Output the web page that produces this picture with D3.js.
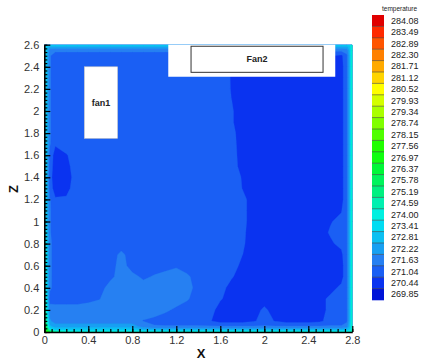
<!DOCTYPE html>
<html>
<head>
<meta charset="utf-8">
<script src="https://cdn.jsdelivr.net/npm/d3@7"></script>
<style>
  html, body { margin: 0; padding: 0; background: #fff; }
  svg { display: block; font-family: "Liberation Sans", Arial, sans-serif; }
</style>
</head>
<body>
<svg id="chart" width="421" height="362"></svg>
<script>
// Contour levels (legend order, top to bottom) and their fill colours
const levels = [284.08, 283.49, 282.89, 282.30, 281.71, 281.12, 280.52, 279.93, 279.34,
  278.74, 278.15, 277.56, 276.97, 276.37, 275.78, 275.19, 274.59, 274.00, 273.41,
  272.81, 272.22, 271.63, 271.04, 270.44, 269.85];
const levelColors = ["#e00000", "#ff2a00", "#ff5500", "#ff8000", "#ffaa00", "#ffd400",
  "#ffff00", "#d4ff00", "#aaff00", "#80ff00", "#50ff00", "#20ff00", "#10ff10", "#00f838",
  "#00f45c", "#00f080", "#00f0b0", "#00f0e0", "#00dcf2", "#0cc0f2", "#18a0f2", "#2680f2",
  "#1a5ff4", "#0a33f0", "#0014d8"];

// Sample positions of the temperature grid (denser close to the walls)
const xNodes = [0, 0.02, 0.05, 0.1, 0.2, 0.3, 0.4, 0.5, 0.6, 0.7, 0.8, 0.9, 1.0, 1.1, 1.2,
  1.3, 1.4, 1.5, 1.6, 1.7, 1.8, 1.9, 2.0, 2.1, 2.2, 2.3, 2.4, 2.5, 2.6, 2.7, 2.75, 2.78, 2.8];
const zNodes = [2.6, 2.58, 2.55, 2.5, 2.4, 2.3, 2.2, 2.1, 2.0, 1.9, 1.8, 1.7, 1.6, 1.5, 1.4,
  1.3, 1.2, 1.1, 1.0, 0.9, 0.8, 0.7, 0.6, 0.5, 0.4, 0.3, 0.2, 0.1, 0.05, 0.02, 0];

// Frequent temperature values in the room interior
const D = 270.8, M = 271.3, L = 271.95;

// Temperature field, one row per zNodes entry, one column per xNodes entry
const temperature = [
  [274.5, 273.6, 273.6, 273.6, 273.6, 273.6, 273.6, 273.6, 273.6, 273.6, 273.6, 273.6, 273.6, 273.6, 273.6, 273.6, 273.6, 273.6, 273.6, 273.6, 273.6, 273.6, 273.6, 273.6, 273.6, 273.6, 273.6, 273.6, 273.6, 273.6, 273.6, 273.6, 275.0],
  [274.2, 273.3, 272.6, 272.6, 272.6, 272.6, 272.6, 272.6, 272.6, 272.6, 272.6, 272.6, 272.6, 272.6, 272.6, 272.6, 272.6, 272.6, 272.6, 272.6, 272.6, 272.6, 272.6, 272.6, 272.6, 272.6, 272.6, 272.6, 272.6, 272.6, 272.6, 273.2, 275.0],
  [274.2, 273.1, 271.9, 271.8, 271.8, 271.8, 271.8, 271.8, 271.8, 271.8, 271.8, 271.8, 271.8, 271.8, 271.8, 271.8, 271.8, 271.8, 271.8, 271.8, 271.8, 271.8, 271.8, 271.8, 271.8, 271.8, 271.8, 271.8, 271.8, 271.8, 271.9, 273.1, 275.0],
  [274.2, 273.1, 271.7, M, M, M, M, M, M, M, M, M, M, M, M, M, M, M, M, M, M, M, M, M, M, M, M, M, 271.1, 270.9, 271.5, 273.0, 275.0],
  [274.2, 273.1, 271.7, M, M, M, M, M, M, M, M, M, M, M, M, M, M, M, M, 271.0, D, D, D, D, D, D, D, D, D, D, 271.5, 273.0, 275.0],
  [274.2, 273.1, 271.7, M, M, M, M, M, M, M, M, M, M, M, M, M, M, M, 271.49, 270.99, D, D, D, D, D, D, D, D, D, D, 271.5, 273.0, 275.0],
  [274.2, 273.1, 271.7, M, M, M, M, M, M, M, M, M, M, M, M, M, M, M, 271.5, 271.0, D, D, D, D, D, D, D, D, D, D, 271.5, 273.0, 275.0],
  [274.2, 273.1, 271.7, M, M, M, M, M, M, M, M, M, M, M, M, M, M, M, M, 271.05, D, D, D, D, D, D, D, D, D, D, 271.5, 273.0, 275.0],
  [274.2, 273.1, 271.7, M, M, M, M, M, M, M, M, M, M, M, M, M, M, M, M, 271.1, D, D, D, D, D, D, D, D, D, D, 271.5, 273.0, 275.0],
  [274.2, 273.1, 271.7, M, M, M, M, M, M, M, M, M, M, M, M, M, M, M, M, 271.1, D, D, D, D, D, D, D, D, D, D, 271.5, 273.0, 275.0],
  [274.2, 273.1, 271.7, M, M, M, M, M, M, M, M, M, M, M, M, M, M, M, M, 271.2, D, D, D, D, D, D, D, D, D, D, 271.5, 273.0, 275.0],
  [274.2, 273.1, 271.7, 271.1, M, M, M, M, M, M, M, M, M, M, M, M, M, M, M, 271.25, D, D, D, D, D, D, D, D, D, D, 271.5, 273.0, 275.0],
  [274.2, 273.1, 271.4, 270.8, 271.0, M, M, M, M, M, M, M, M, M, M, M, M, M, M, M, D, D, D, D, D, D, D, D, D, D, 271.5, 273.0, 275.0],
  [274.2, 273.1, 271.3, 270.8, 270.9, M, M, M, M, M, M, M, M, M, M, M, M, M, M, M, 270.85, D, D, D, D, D, D, D, D, D, 271.5, 273.0, 275.0],
  [274.2, 273.1, 271.2, 270.8, 270.8, M, M, M, M, M, M, M, M, M, M, M, M, M, M, 271.35, 271.0, D, D, D, D, D, D, D, D, D, 271.5, 273.0, 275.0],
  [274.2, 273.1, 271.3, 270.8, 270.9, M, M, M, M, M, M, M, M, M, M, M, M, M, M, 271.35, 271.03, D, D, D, D, D, D, D, D, D, 271.5, 273.0, 275.0],
  [274.2, 273.1, 271.7, 271.1, 271.1, M, M, M, M, M, M, M, M, M, M, M, M, M, M, M, 271.2, D, D, D, D, D, D, D, D, D, 271.5, 273.0, 275.0],
  [274.2, 273.1, 271.7, M, M, M, M, M, M, M, M, M, M, M, M, M, M, M, M, M, 271.2, D, D, D, D, D, D, D, D, 271.0, 271.5, 273.0, 275.0],
  [274.2, 273.1, 271.7, M, M, M, M, M, M, M, M, M, M, M, M, M, M, M, M, M, 271.2, D, D, D, D, D, D, D, 271.0, 271.2, 271.5, 273.0, 275.0],
  [274.5, 273.3, 271.7, M, M, M, M, M, M, M, M, M, M, M, M, M, M, M, M, M, 271.15, D, D, D, D, D, D, D, 271.1, 271.3, 271.5, 273.0, 275.0],
  [274.8, 273.5, 271.8, M, M, M, M, M, M, M, M, M, M, M, M, M, M, M, M, M, 271.12, D, D, D, D, D, D, D, 270.95, 271.2, 271.5, 273.0, 275.0],
  [275.0, 273.6, 271.8, M, M, M, M, M, M, 271.8, M, M, M, M, M, M, M, M, M, M, 271.05, D, D, D, D, D, D, D, D, 270.9, 271.5, 273.0, 275.0],
  [275.0, 273.6, 271.8, M, M, M, M, M, M, L, M, M, M, M, 271.55, M, M, M, M, M, 270.9, D, D, D, D, D, D, D, D, D, 271.5, 273.0, 275.0],
  [275.0, 273.6, 271.8, M, M, M, M, M, 271.45, L, 271.85, 271.5, 271.7, L, L, 271.75, M, M, M, 271.1, D, D, D, D, D, D, D, D, D, D, 271.5, 273.0, 275.0],
  [275.0, 273.6, 271.8, M, M, M, M, M, L, L, L, L, L, L, L, L, M, M, 271.25, 270.85, D, D, D, D, D, D, D, D, D, 271.2, 271.5, 273.0, 275.0],
  [275.2, 273.8, 271.3, M, M, M, 271.45, 271.6, L, L, L, L, L, L, L, 271.7, M, M, 271.1, D, D, D, D, D, D, D, D, D, 271.2, M, 271.5, 273.0, 275.0],
  [275.8, 274.2, 272.0, L, L, L, L, L, L, L, L, L, L, 271.75, 271.5, 271.3, M, M, D, D, D, D, 271.15, D, D, D, D, D, 271.2, M, 271.5, 273.0, 275.0],
  [276.5, 274.8, 272.3, L, L, L, L, L, L, L, L, 271.6, 271.45, M, M, M, M, 271.1, D, D, D, 270.95, 271.3, 271.0, D, D, D, 270.9, M, M, 271.5, 273.0, 275.0],
  [277.5, 275.5, 273.0, 272.5, 272.5, 272.5, 272.5, 272.5, 272.5, 272.5, 272.5, 272.0, 271.7, 271.7, 271.7, 271.7, 271.7, 271.7, 271.7, 271.7, 271.7, 271.7, 271.7, 271.7, 271.7, 271.7, 271.7, 271.7, 271.7, 271.7, 272.0, 273.2, 275.0],
  [278.5, 276.5, 274.5, 273.4, 273.4, 273.4, 273.4, 273.4, 273.4, 273.4, 273.4, 272.9, 272.9, 272.9, 272.9, 272.9, 272.9, 272.9, 272.9, 272.9, 272.9, 272.9, 272.9, 272.9, 272.9, 272.9, 272.9, 272.9, 272.9, 272.9, 273.0, 273.6, 275.0],
  [279.5, 278.0, 276.5, 275.5, 275.0, 274.6, 274.6, 274.6, 274.6, 274.6, 274.6, 274.6, 274.6, 274.6, 274.6, 274.6, 274.6, 274.6, 274.6, 274.6, 274.6, 274.6, 274.6, 274.6, 274.6, 274.6, 274.6, 274.6, 274.6, 274.6, 274.6, 274.6, 275.5]
];

// Axis ticks
const xTicks = [0, 0.4, 0.8, 1.2, 1.6, 2.0, 2.4, 2.8];
const xTickLabels = ["0", "0.4", "0.8", "1.2", "1.6", "2", "2.4", "2.8"];
const zTicks = [0, 0.2, 0.4, 0.6, 0.8, 1.0, 1.2, 1.4, 1.6, 1.8, 2.0, 2.2, 2.4, 2.6];
const zTickLabels = ["0", "0.2", "0.4", "0.6", "0.8", "1", "1.2", "1.4", "1.6", "1.8", "2", "2.2", "2.4", "2.6"];
const minorPerMajor = 6;

// Fan outlines in room coordinates
const fanPanels = [{ x0: 1.127, x1: 2.645, z0: 2.31, z1: 2.6 }];
const fanBoxes = [
  { label: "fan1", x0: 0.364, x1: 0.666, z0: 1.753, z1: 2.40, framed: false },
  { label: "Fan2", x0: 1.334, x1: 2.534, z0: 2.35, z1: 2.586, framed: true }
];

const svg = d3.select("#chart");
const x = d3.scaleLinear().domain([0, 2.8]).range([44.3, 352.3]);
const z = d3.scaleLinear().domain([0, 2.6]).range([332, 44.7]);

// Grid-cell coordinates -> room coordinates (values sit at cell centres)
const nx = xNodes.length, nz = zNodes.length;
const gx = d3.scaleLinear()
  .domain([0, ...xNodes.map((_, i) => i + 0.5), nx])
  .range([xNodes[0], ...xNodes, xNodes[nx - 1]]);
const gz = d3.scaleLinear()
  .domain([0, ...zNodes.map((_, j) => j + 0.5), nz])
  .range([zNodes[0], ...zNodes, zNodes[nz - 1]]);

const projection = d3.geoTransform({
  point(px, py) { this.stream.point(x(gx(px)), z(gz(py))); }
});
const path = d3.geoPath(projection);

const ascending = levels.slice().sort((a, b) => a - b);
const bands = d3.contours().size([nx, nz]).thresholds(ascending)(temperature.flat());

svg.append("defs").append("clipPath").attr("id", "plot-clip")
  .append("rect")
  .attr("x", x(0)).attr("y", z(2.6))
  .attr("width", x(2.8) - x(0)).attr("height", z(0) - z(2.6));

svg.append("g").attr("clip-path", "url(#plot-clip)")
  .selectAll("path").data(bands).join("path")
  .attr("d", path)
  .attr("fill", d => levelColors[levels.indexOf(d.value)])
  .attr("stroke", d => levelColors[levels.indexOf(d.value)])
  .attr("stroke-width", 0.3);

// Fans
svg.append("g").selectAll("rect").data(fanPanels).join("rect")
  .attr("x", d => x(d.x0)).attr("y", d => z(d.z1))
  .attr("width", d => x(d.x1) - x(d.x0)).attr("height", d => z(d.z0) - z(d.z1))
  .attr("fill", "#fff");

const fanG = svg.append("g").selectAll("g").data(fanBoxes).join("g");
fanG.append("rect")
  .attr("x", d => x(d.x0)).attr("y", d => z(d.z1))
  .attr("width", d => x(d.x1) - x(d.x0)).attr("height", d => z(d.z0) - z(d.z1))
  .attr("fill", "#fff")
  .attr("stroke", d => d.framed ? "#333" : "#c8c8c8")
  .attr("stroke-width", d => d.framed ? 1 : 0.6);
fanG.append("text")
  .attr("x", d => x((d.x0 + d.x1) / 2)).attr("y", d => z((d.z0 + d.z1) / 2))
  .attr("text-anchor", "middle").attr("dominant-baseline", "central")
  .attr("font-size", 9).attr("font-weight", "bold").attr("fill", "#222")
  .text(d => d.label);

// Axes with inward ticks
const xMinor = d3.range(0, 2.8 + 1e-9, 0.4 / minorPerMajor);
const zMinor = d3.range(0, 2.6 + 1e-9, 0.2 / minorPerMajor);

const gX = svg.append("g").attr("transform", `translate(0,${z(0)})`);
gX.call(d3.axisBottom(x).tickValues(xMinor).tickSizeInner(-3).tickSizeOuter(0).tickFormat(""));
gX.call(g => g.select(".domain").remove());
const gX2 = svg.append("g").attr("transform", `translate(0,${z(0)})`)
  .call(d3.axisBottom(x).tickValues(xTicks).tickSizeInner(-6).tickSizeOuter(0).tickPadding(4)
    .tickFormat((d, i) => xTickLabels[i]));

const gZ = svg.append("g").attr("transform", `translate(${x(0)},0)`);
gZ.call(d3.axisLeft(z).tickValues(zMinor).tickSizeInner(-3).tickSizeOuter(0).tickFormat(""));
gZ.call(g => g.select(".domain").remove());
const gZ2 = svg.append("g").attr("transform", `translate(${x(0)},0)`)
  .call(d3.axisLeft(z).tickValues(zTicks).tickSizeInner(-6).tickSizeOuter(0).tickPadding(5)
    .tickFormat((d, i) => zTickLabels[i]));

svg.selectAll(".tick line").attr("stroke", "#000").attr("stroke-width", 1.2);
[gX2, gZ2].forEach(g => {
  g.select(".domain").attr("stroke", "#000").attr("stroke-width", 1.6);
  g.selectAll(".tick text").attr("font-size", 11).attr("fill", "#333")
    .attr("font-family", "Liberation Sans, Arial, sans-serif");
});

svg.append("text").attr("x", 201).attr("y", 353)
  .attr("text-anchor", "middle").attr("dominant-baseline", "central")
  .attr("font-size", 13).attr("font-weight", "bold").attr("fill", "#111").text("X");
svg.append("text").attr("transform", "translate(13,189) rotate(-90)")
  .attr("text-anchor", "middle").attr("dominant-baseline", "central")
  .attr("font-size", 13).attr("font-weight", "bold").attr("fill", "#111").text("Z");

// Legend
const legendTop = 15, boxH = 11.4, legendX = 372, boxW = 12;
const legend = svg.append("g");
legend.append("text").attr("x", 382).attr("y", 11)
  .attr("font-size", 6.5).attr("fill", "#222").text("temperature");
legend.selectAll("rect").data(levels).join("rect")
  .attr("x", legendX).attr("y", (d, i) => legendTop + i * boxH)
  .attr("width", boxW).attr("height", boxH + 0.3)
  .attr("fill", (d, i) => levelColors[i]);
legend.selectAll("line").data(levels.slice(1)).join("line")
  .attr("x1", legendX).attr("x2", legendX + boxW)
  .attr("y1", (d, i) => legendTop + (i + 1) * boxH)
  .attr("y2", (d, i) => legendTop + (i + 1) * boxH)
  .attr("stroke", "#444").attr("stroke-width", 0.6);
legend.selectAll("text.lbl").data(levels).join("text").attr("class", "lbl")
  .attr("x", 391).attr("y", (d, i) => legendTop + (i + 0.5) * boxH)
  .attr("dominant-baseline", "central")
  .attr("font-size", 9).attr("fill", "#222")
  .text(d => d.toFixed(2));
</script>
</body>
</html>
